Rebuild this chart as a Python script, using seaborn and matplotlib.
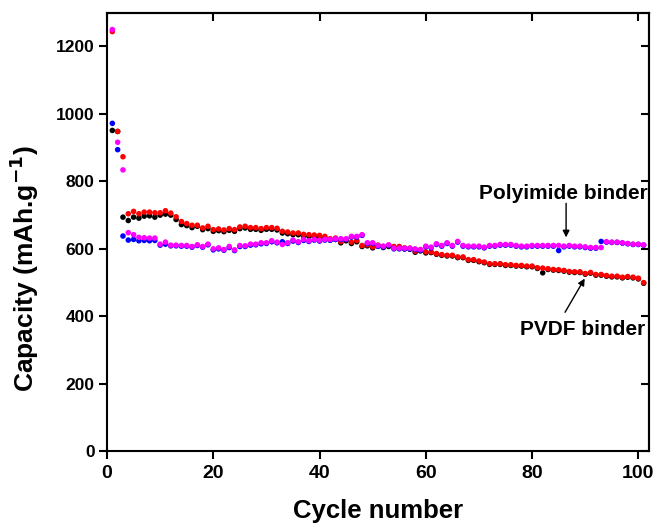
import numpy as np
import pandas as pd
import seaborn as sns
import matplotlib
import matplotlib.pyplot as plt

matplotlib.use('Agg')

#%% data
cycles = np.arange(1, 102)

pvdf_charge = [951, 948, 694, 684, 694, 691, 697, 698, 694, 700,
               703, 700, 687, 672, 669, 663, 667, 657, 660, 652,
               654, 651, 655, 652, 660, 662, 658, 658, 655, 658,
               658, 656, 647, 645, 642, 642, 638, 637, 636, 635,
               632, 626, 628, 618, 624, 616, 621, 607, 609, 603,
               608, 604, 607, 604, 604, 600, 599, 590, 594, 588,
               589, 584, 581, 579, 579, 574, 574, 566, 566, 562,
               559, 554, 554, 554, 551, 551, 549, 549, 547, 547,
               542, 529, 539, 537, 536, 534, 531, 530, 530, 525,
               528, 522, 522, 519, 517, 517, 514, 516, 514, 511, 498]

pvdf_discharge = [1244, 948, 873, 704, 711, 704, 709, 709, 707, 707,
                  713, 706, 695, 681, 675, 670, 670, 662, 667, 657,
                  659, 656, 660, 657, 665, 667, 663, 663, 660, 663,
                  663, 661, 652, 650, 647, 647, 643, 642, 641, 640,
                  637, 630, 632, 622, 628, 620, 625, 610, 612, 606,
                  611, 607, 610, 607, 607, 603, 602, 593, 597, 591,
                  591, 586, 583, 581, 581, 576, 576, 568, 568, 564,
                  561, 556, 556, 556, 553, 553, 551, 551, 549, 549,
                  544, 543, 541, 539, 538, 536, 533, 532, 532, 527,
                  530, 524, 524, 521, 519, 519, 516, 518, 516, 513, 500]

pi_charge = [972, 894, 638, 626, 628, 624, 625, 624, 625, 611,
             614, 609, 609, 608, 608, 605, 610, 605, 612, 597,
             600, 596, 604, 595, 607, 607, 611, 612, 615, 616,
             621, 618, 621, 616, 623, 619, 625, 622, 626, 623,
             626, 626, 628, 628, 628, 635, 635, 640, 616, 616,
             608, 606, 610, 600, 600, 600, 600, 598, 596, 606,
             603, 613, 608, 616, 608, 620, 608, 606, 606, 606,
             603, 608, 608, 611, 611, 611, 608, 606, 606, 608,
             608, 608, 608, 608, 595, 606, 608, 606, 606, 604,
             602, 602, 622, 620, 619, 619, 617, 615, 613, 613, 611]

pi_discharge = [1250, 916, 834, 648, 642, 634, 633, 632, 632, 614,
                620, 611, 611, 610, 610, 607, 612, 607, 614, 600,
                603, 598, 607, 597, 610, 609, 614, 614, 618, 618,
                624, 620, 613, 618, 626, 621, 628, 624, 628, 625,
                628, 628, 630, 630, 630, 637, 637, 642, 618, 618,
                610, 608, 612, 602, 602, 602, 602, 600, 598, 608,
                605, 615, 610, 618, 610, 622, 610, 608, 608, 608,
                605, 610, 610, 613, 613, 613, 610, 608, 608, 610,
                610, 610, 610, 610, 610, 608, 610, 608, 608, 606,
                604, 604, 604, 621, 620, 620, 618, 616, 614, 614, 612]

series_names = ["PVDF charge", "PVDF discharge", "PI charge", "PI discharge"]
series_colors = ["#000000", "#ff0000", "#0000ff", "#ff00ff"]

df = pd.concat([
    pd.DataFrame({"cycle": cycles, "capacity": vals, "series": name})
    for name, vals in zip(series_names,
                          [pvdf_charge, pvdf_discharge, pi_charge, pi_discharge])
])

#%% style
sns.set_style("ticks")
plt.rcParams['font.family'] = ['Liberation Sans', 'DejaVu Sans']
plt.rcParams['font.weight'] = 'bold'
plt.rcParams['axes.linewidth'] = 1.5
plt.rcParams['mathtext.default'] = 'bf'
for key in ['text.color', 'axes.labelcolor', 'xtick.color', 'ytick.color', 'axes.edgecolor']:
    plt.rcParams[key] = 'black'

fig = plt.figure(figsize=(6.57, 5.29), dpi=100)
ax = fig.add_axes([0.1629, 0.1469, 0.8249, 0.8291])

sns.scatterplot(data=df, x="cycle", y="capacity", hue="series",
                hue_order=series_names, palette=series_colors,
                s=16, linewidth=0, legend=False, ax=ax)

ax.set_xlim(0, 102)
ax.set_ylim(0, 1300)
ax.set_xticks(np.arange(0, 101, 20))
ax.set_yticks(np.arange(0, 1201, 200))
ax.tick_params(direction='out', length=6, width=1.5)
ax.tick_params(axis='x', labelsize=14, pad=4)
ax.tick_params(axis='y', labelsize=12.5, pad=3)
for lab in ax.get_xticklabels() + ax.get_yticklabels():
    lab.set_fontweight('bold')

# inward ticks on the mirrored sides
top = ax.secondary_xaxis('top')
top.set_xticks(np.arange(0, 101, 20))
top.tick_params(direction='in', length=6, width=1.5, labeltop=False)
right = ax.secondary_yaxis('right')
right.set_yticks(np.arange(0, 1201, 200))
right.tick_params(direction='in', length=6, width=1.5, labelright=False)

ax.set_xlabel("Cycle number", fontsize=18.5, fontweight='bold', labelpad=12)
ax.set_ylabel(r"Capacity (mAh.g$^{-1}$)", fontsize=19, fontweight='bold')
ax.yaxis.set_label_coords(-0.122, 0.416)

# annotations
ax.text(85.9, 764, "Polyimide binder", ha='center', va='center',
        fontsize=15, fontweight='bold')
ax.annotate("", xy=(86.4, 634), xytext=(86.4, 735),
            arrowprops=dict(arrowstyle='-|>', color='black', lw=1,
                            shrinkA=0, shrinkB=0, mutation_scale=10))
ax.text(89.5, 362, "PVDF binder", ha='center', va='center',
        fontsize=15, fontweight='bold')
ax.annotate("", xy=(89.9, 512), xytext=(86.2, 412),
            arrowprops=dict(arrowstyle='-|>', color='black', lw=1,
                            shrinkA=0, shrinkB=0, mutation_scale=10))

fig.savefig("out.png", dpi=100)
